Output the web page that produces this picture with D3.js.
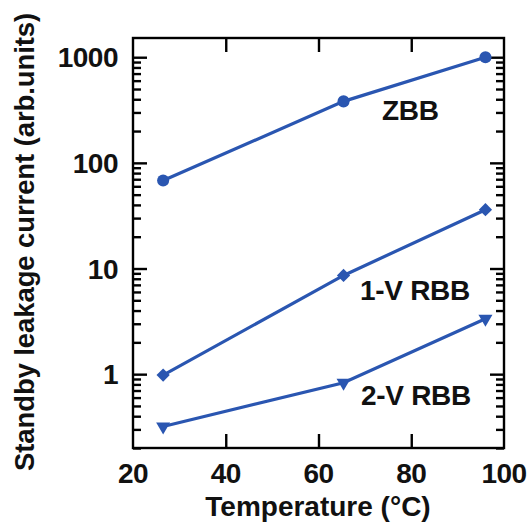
<!DOCTYPE html>
<html><head><meta charset="utf-8">
<script src="https://cdn.jsdelivr.net/npm/d3@7"></script>
<style>body{margin:0;background:#fff}svg{display:block}text{font-family:"Liberation Sans",Arial,sans-serif;font-weight:bold;fill:#111}</style>
</head><body>
<script>
const temps = [26.5, 65.4, 96];
const zbb = [68, 382, 1000];
const rbb1 = [0.98, 8.6, 36];
const rbb2 = [0.32, 0.83, 3.35];
const seriesNames = ["ZBB", "1-V RBB", "2-V RBB"];
const xTicks = [20, 40, 60, 80, 100];
const yTicks = [1, 10, 100, 1000];

const W = 532, H = 527;
const L = 133, R = 504, T = 38, B = 448;
const blue = "#2a56b1";
const svg = d3.select("body").append("svg").attr("width", W).attr("height", H);

const x = d3.scaleLinear().domain([20, 100]).range([L, R]);
const y = d3.scaleLog().domain([0.2, 1520]).range([B, T]);

const minorY = y.ticks().filter(v => v >= 0.2 && v <= 1520 && !yTicks.some(m => Math.abs(m - v) < 1e-9));
const innerX = xTicks.filter(v => v > 20 && v < 100);

// frame
svg.append("rect").attr("x", L).attr("y", T).attr("width", R - L).attr("height", B - T)
  .attr("fill", "none").attr("stroke", "#000").attr("stroke-width", 2.4);

// tick marks via d3 axes (inward on all four sides)
function fix(sel) {
  sel.select(".domain").remove();
  sel.selectAll(".tick text").remove();
  sel.selectAll(".tick line").attr("stroke", "#000").attr("stroke-width", 2.4);
}
svg.append("g").attr("transform", `translate(${L},0)`).call(d3.axisLeft(y).tickValues(minorY).tickSize(-8)).call(fix);
svg.append("g").attr("transform", `translate(${L},0)`).call(d3.axisLeft(y).tickValues(yTicks).tickSize(-14)).call(fix);
svg.append("g").attr("transform", `translate(${R},0)`).call(d3.axisRight(y).tickValues(minorY).tickSize(-8)).call(fix);
svg.append("g").attr("transform", `translate(${R},0)`).call(d3.axisRight(y).tickValues(yTicks).tickSize(-14)).call(fix);
svg.append("g").attr("transform", `translate(0,${B})`).call(d3.axisBottom(x).tickValues(innerX).tickSize(-14)).call(fix);
svg.append("g").attr("transform", `translate(0,${T})`).call(d3.axisTop(x).tickValues(innerX).tickSize(-14)).call(fix);

// tick labels
yTicks.forEach(v => {
  svg.append("text").attr("x", 118).attr("y", y(v)).attr("dy", "0.36em").attr("text-anchor", "end")
    .attr("font-size", 28).attr("letter-spacing", -0.5).text(d3.format("d")(v));
});
xTicks.forEach(v => {
  svg.append("text").attr("x", x(v)).attr("y", 483).attr("text-anchor", "middle")
    .attr("font-size", 28).attr("letter-spacing", -0.5).text(v);
});

// axis titles
svg.append("text").attr("x", (L + R) / 2 - 0.5).attr("y", 516).attr("text-anchor", "middle")
  .attr("font-size", 28).text("Temperature (°C)");
svg.append("text").attr("transform", "translate(34,242) rotate(-90)").attr("text-anchor", "middle")
  .attr("font-size", 27.5).attr("letter-spacing", -0.1).text("Standby leakage current (arb.units)");

// series
const line = d3.line().x((d, i) => x(temps[i])).y(d => y(d));
const data = [zbb, rbb1, rbb2];
const shapes = [d3.symbolCircle, d3.symbolSquare, d3.symbolTriangle];
const sizes = [115, 88, 85];
const rot = [0, 45, 180];
data.forEach((s, k) => {
  svg.append("path").attr("d", line(s)).attr("fill", "none").attr("stroke", blue).attr("stroke-width", 3.2);
  s.forEach((v, i) => {
    svg.append("path").attr("d", d3.symbol().type(shapes[k]).size(sizes[k])())
      .attr("transform", `translate(${x(temps[i])},${y(v)}) rotate(${rot[k]})`)
      .attr("fill", blue);
  });
});

// series labels
const labelPos = [[382, 120], [360, 300], [361, 405]];
seriesNames.forEach((n, k) => {
  svg.append("text").attr("x", labelPos[k][0]).attr("y", labelPos[k][1]).attr("font-size", 28)
    .attr("letter-spacing", -0.3).text(n);
});
</script>
</body></html>
